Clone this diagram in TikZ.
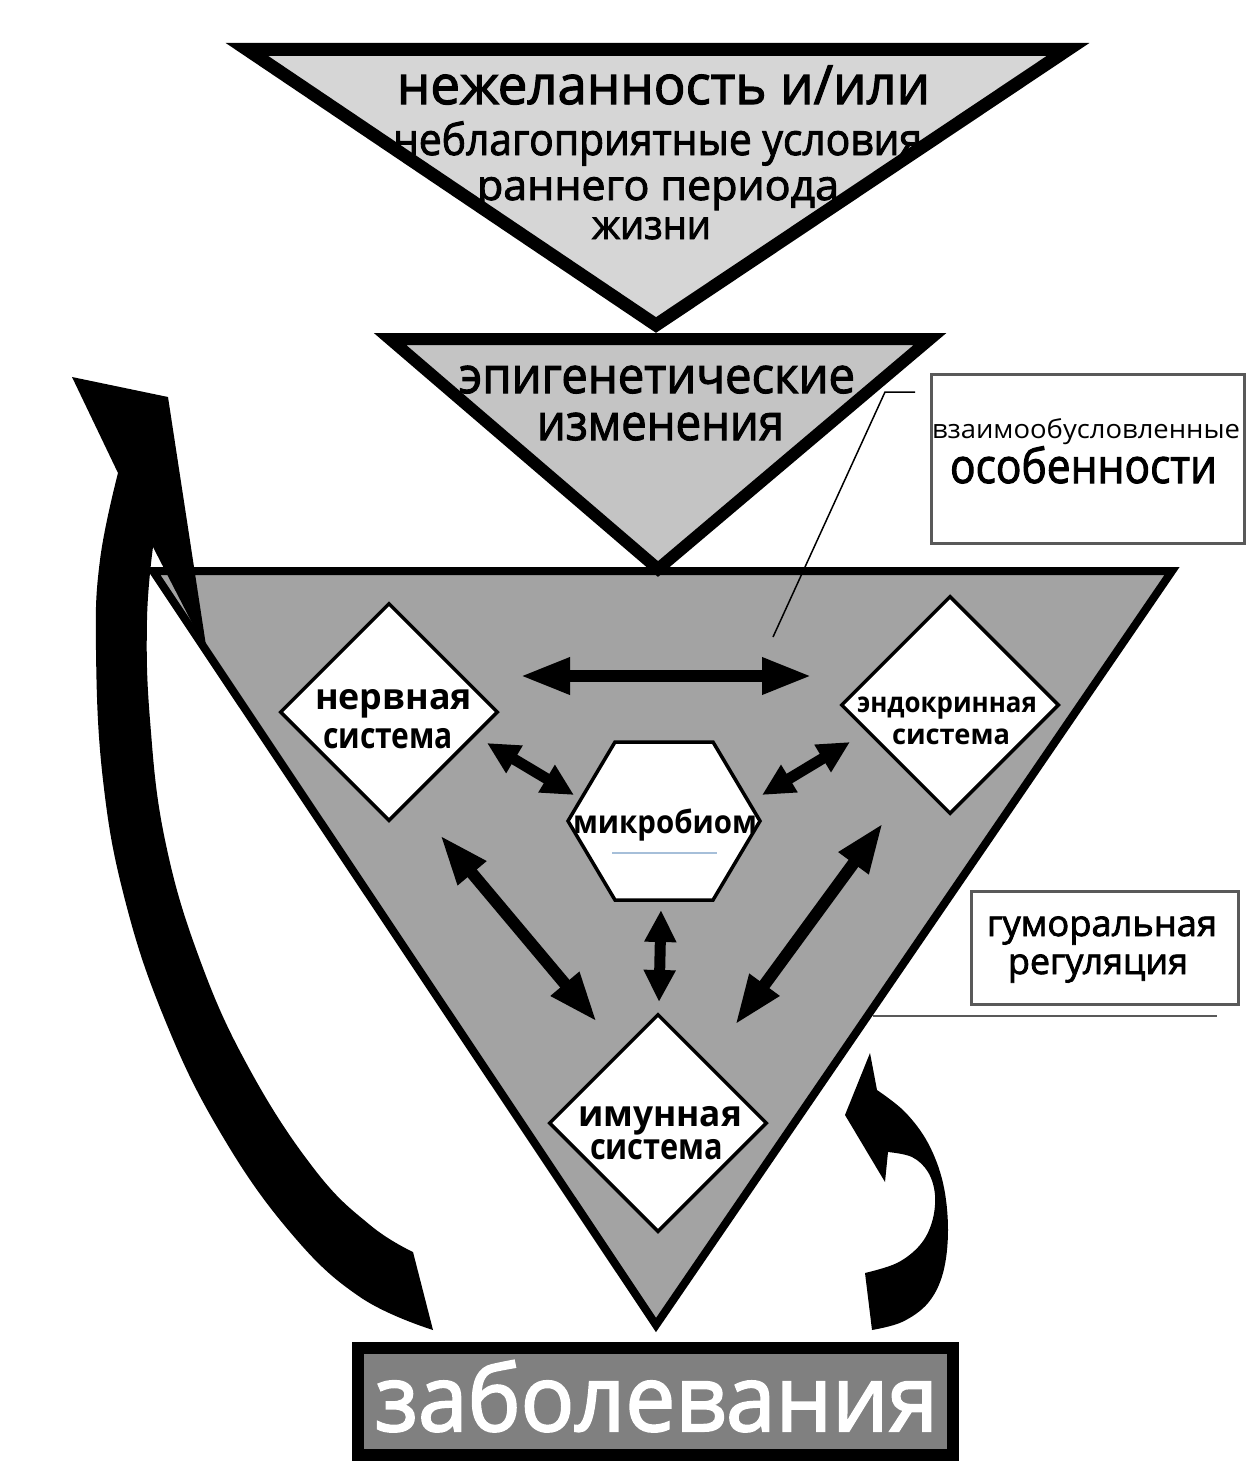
\documentclass[tikz,border=0pt]{standalone}
\usepackage{graphicx}
\usepackage{fontspec}
\setmainfont{Open Sans}
\newfontfamily\semib{Open Sans}[FakeBold=2.2]
\usetikzlibrary{arrows.meta,shapes.geometric}
\definecolor{tri1}{gray}{0.84}
\definecolor{tri2}{gray}{0.77}
\definecolor{tri3}{gray}{0.64}
\definecolor{disfill}{gray}{0.5}
\definecolor{boxline}{gray}{0.35}
\definecolor{bluish}{rgb}{0.65,0.75,0.85}
\newcommand{\fitw}[2]{\resizebox{#1pt}{\height}{#2}}
\newcommand{\fsz}[1]{\fontsize{#1}{#1}\selectfont}
\begin{document}
\begin{tikzpicture}[x=1pt,y=-1pt,
  tri/.style={line join=miter, draw=black},
  sysbox/.style={diamond, draw=black, fill=white, line width=3.5pt, inner sep=0pt, minimum width=218pt, minimum height=218pt},
  lbl/.style={anchor=base, inner sep=0pt},
  note/.style={draw=boxline, line width=2.5pt, fill=white, inner sep=0pt, anchor=north west},
  bigdbl/.style={line width=12pt, {Triangle[length=50pt,width=34pt]}-{Triangle[length=50pt,width=34pt]}},
  smalldbl/.style={line width=11pt, {Triangle[length=32pt,width=30pt]}-{Triangle[length=32pt,width=30pt]}},
  curved/.style={fill=black},
]
\useasboundingbox (0,0) rectangle (1246,1461);
\fill[white] (0,0) rectangle (1246,1461);

% big triangle
\filldraw[tri, fill=tri3, line width=8pt] (153,571) -- (1172,571) -- (656,1325) -- cycle;
% top triangle
\filldraw[tri, fill=tri1, line width=13pt] (247,49.5) -- (1068,49.5) -- (656,325) -- cycle;
% second triangle
\filldraw[tri, fill=tri2, line width=12pt] (390,339) -- (930,339) -- (658,569) -- cycle;

% top texts
\node[lbl] (t1) at (663.5,104) {\semib\fsz{54}\fitw{533}{нежеланность и/или}};
\node[lbl] (t2) at (657.5,155) {\semib\fsz{44}\fitw{529}{неблагоприятные условия}};
\node[lbl] (t3) at (658,200) {\semib\fsz{42}\fitw{362}{раннего периода}};
\node[lbl] (t4) at (651.5,239) {\semib\fsz{40}\fitw{119}{жизни}};

\node[lbl] (e1) at (657,393) {\semib\fsz{50}\fitw{396}{эпигенетические}};
\node[lbl] (e2) at (660.5,440) {\semib\fsz{50}\fitw{247}{изменения}};

% callout box
\node[note, minimum width=313pt, minimum height=169pt] (osob) at (930,373) {};
\node[lbl] (o1) at (1086,438) {\fsz{26}\fitw{308}{взаимообусловленные}};
\node[lbl] (o2) at (1083.5,483) {\semib\fsz{48}\fitw{267}{особенности}};
\coordinate (c0) at (915,392);
\coordinate (c1) at (885,392);
\coordinate (c2) at (773,637);
\draw[line width=1.5pt] (c0) -- (c1) -- (c2);

% humoral box
\node[note, minimum width=267pt, minimum height=113pt] (gum) at (970,890) {};
\node[lbl] (g1) at (1102,936) {\semib\fsz{36}\fitw{230}{гуморальная}};
\node[lbl] (g2) at (1098,974) {\semib\fsz{36}\fitw{180}{регуляция}};
\coordinate (u0) at (873,1016);
\coordinate (u1) at (1217,1016);
\draw[draw=boxline, line width=2.5pt] (u0) -- (u1);

% systems
\node[sysbox] (nerv) at (389,712) {};
\node[sysbox] (endo) at (950,705) {};
\node[sysbox] (imm) at (658,1123) {};
\node[lbl] (n1) at (393.5,709) {\bfseries\fsz{36}\fitw{157}{нервная}};
\node[lbl] (n2) at (388,748) {\bfseries\fsz{36}\fitw{130}{система}};
\node[lbl] (d1) at (947,712) {\bfseries\fsz{28}\fitw{180}{эндокринная}};
\node[lbl] (d2) at (951,744) {\bfseries\fsz{28}\fitw{118}{система}};
\node[lbl] (i1) at (660,1126) {\bfseries\fsz{36}\fitw{164}{имунная}};
\node[lbl] (i2) at (656.5,1159) {\bfseries\fsz{36}\fitw{133}{система}};

% microbiome hexagon
\filldraw[fill=white, line width=3.5pt, line join=miter] (615,742) -- (713,742) -- (760,821) -- (713,900) -- (615,900) -- (568,821) -- cycle;
\node[lbl] (micro) at (665,833) {\bfseries\fsz{32}\fitw{184}{микробиом}};
\draw[bluish, line width=1.2pt] (612,853) -- (717,853);

% double arrows
\coordinate (a1) at (520,676);
\coordinate (a2) at (812,676);
\coordinate (b1) at (487,743);
\coordinate (b2) at (574,795);
\coordinate (c3) at (850,742);
\coordinate (c4) at (762,795);
\coordinate (d3) at (440,835);
\coordinate (d4) at (597,1022);
\coordinate (f1) at (883,823);
\coordinate (f2) at (735,1025);
\coordinate (h1) at (661,910);
\coordinate (h2) at (659,1002);
\draw[bigdbl] (a1) -- (a2);
\draw[smalldbl] (b1) -- (b2);
\draw[smalldbl] (c3) -- (c4);
\draw[bigdbl] (d3) -- (d4);
\draw[bigdbl] (f1) -- (f2);
\draw[smalldbl] (h1) -- (h2);

% disease box
\node[draw=black, line width=12pt, fill=disfill, minimum width=595pt, minimum height=107pt, inner sep=0pt] (dis) at (655.5,1401.5) {};
\node[lbl] (distext) at (656.5,1431) {\color{white}\semib\fsz{92}\fitw{563}{заболевания}};

% left big curved arrow
\fill[curved] (72,377) -- (168,397) -- (207,652) -- (153,547)
  -- plot[smooth, tension=0.7] coordinates {(153,547) (147,620) (150,720) (165,840) (200,960) (250,1070) (315,1170) (370,1225) (413,1252)}
  -- (433,1330)
  -- plot[smooth, tension=0.7] coordinates {(433,1330) (360,1297) (290,1232) (220,1132) (165,1020) (125,900) (103,780) (96,650) (100,560) (118,473)}
  -- cycle;

% right small curved arrow
\fill[curved] (870,1053) -- (845,1115) -- (885,1182) -- (888,1152)
  -- plot[smooth, tension=0.6] coordinates {(888,1152) (912,1157) (928,1172) (935,1195) (932,1222) (920,1245) (897,1263) (865,1273)}
  -- (872,1330)
  -- plot[smooth, tension=0.6] coordinates {(872,1330) (902,1322) (928,1303) (943,1273) (948,1230) (943,1183) (928,1143) (905,1112) (877,1090)}
  -- cycle;
\end{tikzpicture}
\end{document}
